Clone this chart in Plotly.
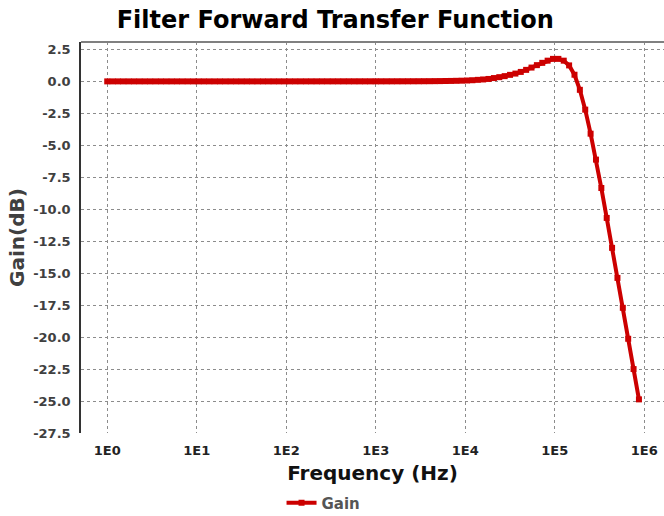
import plotly.graph_objects as go

# Frequencies (Hz), log-spaced sample points
freq = [1.0, 1.1482, 1.3183, 1.5136, 1.7378, 1.9953, 2.2909, 2.6303, 3.0200, 3.4674,
        3.9811, 4.5709, 5.2481, 6.0256, 6.9183, 7.9433, 9.1201, 10.471, 12.023, 13.804,
        15.849, 18.197, 20.893, 23.988, 27.542, 31.623, 36.308, 41.687, 47.863, 54.954,
        63.096, 72.444, 83.176, 95.499, 109.65, 125.89, 144.54, 165.96, 190.55, 218.78,
        251.19, 288.40, 331.13, 380.19, 436.52, 501.19, 575.44, 660.69, 758.58, 870.96,
        1000.0, 1148.2, 1318.3, 1513.6, 1737.8, 1995.3, 2290.9, 2630.3, 3020.0, 3467.4,
        3981.1, 4570.9, 5248.1, 6025.6, 6918.3, 7943.3, 9120.1, 10471, 12023, 13804,
        15849, 18197, 20893, 23988, 27542, 31623, 36308, 41687, 47863, 54954,
        63096, 72444, 83176, 95499, 109650, 125890, 144540, 165960, 190550, 218780,
        251190, 288400, 331130, 380190, 436520, 501190, 575440, 660690, 758580, 870960]

# Gain (dB)
gain = [0.0, 0.0, 0.0, 0.0, 0.0, 0.0, 0.0, 0.0, 0.0, 0.0,
        0.0, 0.0, 0.0, 0.0, 0.0, 0.0, 0.0, 0.0, 0.0, 0.0,
        0.0, 0.0, 0.0, 0.0, 0.0, 0.0, 0.0, 0.0, 0.0, 0.0,
        0.0, 0.0, 0.0, 0.0, 0.0, 0.0, 0.0, 0.0, 0.0, 0.0,
        0.0, 0.0, 0.0, 0.0, 0.0, 0.0, 0.0, 0.0, 0.0, 0.0,
        0.001, 0.001, 0.002, 0.002, 0.003, 0.004, 0.005, 0.006, 0.008, 0.010,
        0.013, 0.017, 0.022, 0.028, 0.035, 0.045, 0.055, 0.07, 0.09, 0.12,
        0.15, 0.19, 0.26, 0.33, 0.41, 0.51, 0.61, 0.74, 0.90, 1.08,
        1.27, 1.45, 1.62, 1.76, 1.76, 1.62, 1.25, 0.52, -0.66, -2.21,
        -4.09, -6.12, -8.34, -10.68, -13.02, -15.37, -17.71, -20.13, -22.50, -24.87]

x_tickvals = [1, 10, 100, 1000, 10000, 100000, 1000000]
x_ticktext = ["1E0", "1E1", "1E2", "1E3", "1E4", "1E5", "1E6"]
y_tickvals = [2.5, 0.0, -2.5, -5.0, -7.5, -10.0, -12.5, -15.0, -17.5, -20.0, -22.5, -25.0, -27.5]
y_ticktext = ["2.5", "0.0", "-2.5", "-5.0", "-7.5", "-10.0", "-12.5", "-15.0", "-17.5",
              "-20.0", "-22.5", "-25.0", "-27.5"]

FONT = "DejaVu Sans"
RED = "#cc0000"

fig = go.Figure()
fig.add_trace(go.Scatter(
    x=freq, y=gain, name="Gain", mode="lines+markers",
    line=dict(color=RED, width=4),
    marker=dict(symbol="square", size=6, color=RED),
))

fig.update_layout(
    width=664, height=516,
    margin=dict(l=81, r=0, t=42, b=83),
    paper_bgcolor="white", plot_bgcolor="white",
    font=dict(family=FONT),
    title=dict(text="Filter Forward Transfer Function", xref="container", x=0.505,
               yref="container", y=1 - 20 / 516, xanchor="center", yanchor="middle",
               font=dict(family=FONT, size=24, weight="bold", color="#000000")),
    showlegend=True,
    legend=dict(orientation="h", xref="container", yref="container",
                x=0.424, y=1 - 503 / 516, xanchor="left", yanchor="middle",
                itemwidth=30, font=dict(family=FONT, size=15, weight="bold", color="#555555"),
                bgcolor="rgba(0,0,0,0)"),
    shapes=[dict(type="line", xref="paper", yref="paper", x0=0, x1=1, y0=1, y1=1,
                 line=dict(color="#808080", width=2))],
)

fig.update_xaxes(
    type="log", range=[-0.293, 6.22],
    tickvals=x_tickvals, ticktext=x_ticktext,
    tickfont=dict(family=FONT, size=13, weight="bold", color="#222222"),
    ticks="", ticklabelstandoff=8,
    showgrid=True, gridcolor="#8c8c8c", griddash="dot", gridwidth=1,
    showline=False, zeroline=False,
    title=dict(text="Frequency (Hz)", standoff=8,
               font=dict(family=FONT, size=20, weight="bold", color="#111111")),
)
fig.update_yaxes(
    range=[-27.5, 3.08],
    tickvals=y_tickvals, ticktext=y_ticktext,
    tickfont=dict(family=FONT, size=13, weight="bold", color="#404040"),
    ticks="", ticklabelstandoff=6,
    showgrid=True, gridcolor="#8c8c8c", griddash="dot", gridwidth=1,
    showline=True, linecolor="#333333", linewidth=1.5,
    zeroline=False,
    title=dict(text="Gain(dB)", standoff=3,
               font=dict(family=FONT, size=20, weight="bold", color="#404040")),
)

fig.write_html("out.html")
